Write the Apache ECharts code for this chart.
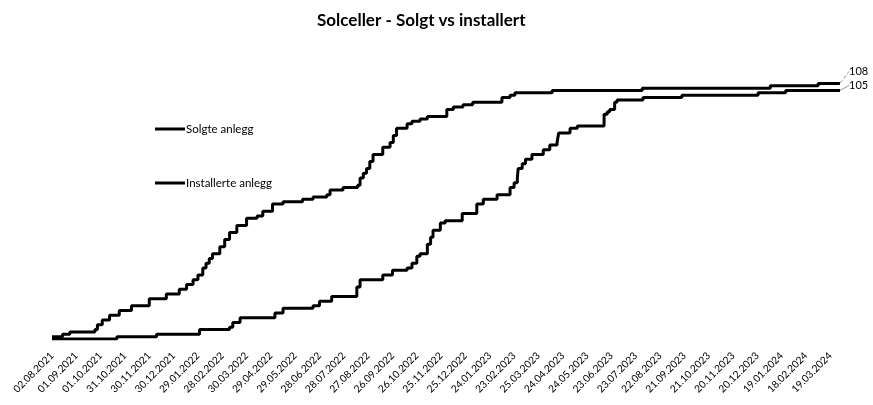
<!DOCTYPE html>
<html>
<head>
<meta charset="UTF-8">
<title>Solceller - Solgt vs installert</title>
<script src="https://cdn.jsdelivr.net/npm/echarts@6/dist/echarts.min.js"></script>
<style>
  html, body { margin: 0; padding: 0; background: #fff; }
  #main { width: 873px; height: 405px; }
</style>
</head>
<body>
<div id="main"></div>
<script>
// x-akse: dager etter 02.08.2021, en etikett hver 30. dag
var dateLabels = ['02.08.2021', '01.09.2021', '01.10.2021', '31.10.2021', '30.11.2021', '30.12.2021',
  '29.01.2022', '28.02.2022', '30.03.2022', '29.04.2022', '29.05.2022', '28.06.2022', '28.07.2022',
  '27.08.2022', '26.09.2022', '26.10.2022', '25.11.2022', '25.12.2022', '24.01.2023', '23.02.2023',
  '25.03.2023', '24.04.2023', '24.05.2023', '23.06.2023', '23.07.2023', '22.08.2023', '21.09.2023',
  '21.10.2023', '20.11.2023', '20.12.2023', '19.01.2024', '18.02.2024', '19.03.2024'];
var lastDay = 972;

// Solgte anlegg (kumulativt)
var solgtDays = [0, 13, 22, 53, 56, 62, 71, 83, 98, 120, 141, 157, 166, 174, 180, 186, 190, 194, 198, 207,
  213, 219, 228, 240, 253, 260, 272, 285, 309, 322, 339, 343, 359, 377, 380, 384, 388, 392, 396, 408,
  417, 421, 425, 438, 444, 454, 463, 487, 495, 507, 519, 555, 565, 571, 617, 728, 886, 945, 972];
var solgtValues = [1, 2, 3, 4, 6, 8, 10, 12, 14, 17, 19, 21, 23, 25, 27, 30, 32, 34, 36, 39,
  42, 45, 48, 51, 52, 54, 57, 58, 59, 60, 61, 63, 64, 65, 68, 70, 72, 75, 78, 81,
  83, 86, 89, 91, 92, 93, 94, 97, 98, 99, 100, 102, 103, 104, 105, 106, 107, 108, 108];

// Installerte anlegg (kumulativt)
var installertDays = [0, 80, 129, 182, 219, 223, 232, 275, 285, 322, 330, 345, 376, 380, 408, 420, 438,
  444, 450, 454, 463, 467, 470, 479, 485, 506, 524, 532, 549, 565, 570, 574, 575, 580, 584, 592, 606,
  614, 623, 625, 639, 648, 681, 685, 688, 694, 697, 729, 777, 871, 905, 972];
var installertValues = [0, 1, 2, 4, 5, 7, 9, 11, 13, 14, 16, 18, 22, 25, 27, 29, 30,
  32, 35, 36, 40, 43, 46, 49, 50, 53, 57, 59, 61, 64, 66, 68, 72, 74, 76, 78, 80,
  82, 83, 87, 89, 90, 95, 96, 97, 100, 101, 102, 103, 104, 105, 105];

function buildData(days, values) {
  var out = [];
  for (var i = 0; i < days.length; i++) {
    var item = { value: [days[i], values[i]] };
    if (i === days.length - 1) {
      item.label = { show: true, formatter: String(values[i]) };
    }
    out.push(item);
  }
  return out;
}

var baseFont = 'Lato';
var chart = echarts.init(document.getElementById('main'));
chart.setOption({
  animation: false,
  backgroundColor: '#fff',
  title: {
    text: 'Solceller - Solgt vs installert',
    left: 312,
    top: 7,
    textStyle: { fontFamily: baseFont, fontSize: 17, fontWeight: 'bold', color: '#000' }
  },
  legend: {
    data: ['Solgte anlegg', 'Installerte anlegg'],
    orient: 'vertical',
    left: 150,
    top: 118,
    itemWidth: 30,
    itemHeight: 3,
    itemGap: 42,
    icon: 'rect',
    textStyle: { fontFamily: baseFont, fontSize: 11.5, color: '#000', padding: [0, 0, 0, -4] }
  },
  grid: { left: 52, right: 33, top: 55, bottom: 66 },
  xAxis: {
    type: 'value',
    min: 0,
    max: lastDay,
    interval: 30,
    axisLine: { show: false },
    axisTick: { show: false },
    splitLine: { show: false },
    axisLabel: {
      rotate: 45,
      margin: 15,
      showMaxLabel: false,
      fontFamily: baseFont,
      fontSize: 10.2,
      color: '#000',
      formatter: function (v) {
        return v % 30 === 0 ? (dateLabels[v / 30] || '') : '';
      }
    }
  },
  yAxis: { type: 'value', min: 0, max: 120, show: false },
  series: [
    {
      name: 'Solgte anlegg',
      type: 'line',
      step: 'end',
      symbolSize: 0,
      color: '#000',
      lineStyle: { color: '#000', width: 3 },
      label: { show: false, position: 'right', distance: 9, fontFamily: baseFont, fontSize: 11, color: '#000' },
      labelLayout: { dy: -12 },
      labelLine: { show: true, lineStyle: { color: '#999', width: 1, type: 'dashed' } },
      data: buildData(solgtDays, solgtValues)
    },
    {
      name: 'Installerte anlegg',
      type: 'line',
      step: 'end',
      symbolSize: 0,
      color: '#000',
      lineStyle: { color: '#000', width: 3 },
      label: { show: false, position: 'right', distance: 9, fontFamily: baseFont, fontSize: 11, color: '#000' },
      labelLayout: { dy: -5 },
      labelLine: { show: true, lineStyle: { color: '#999', width: 1 } },
      data: buildData(installertDays, installertValues)
    }
  ]
});
</script>
</body>
</html>
